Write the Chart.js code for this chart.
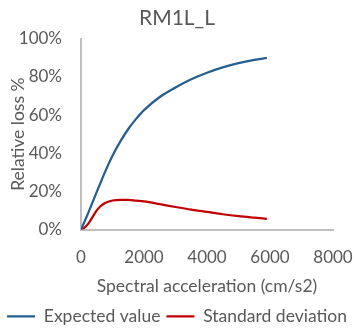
<!DOCTYPE html>
<html>
<head>
<meta charset="utf-8">
<script src="https://cdn.jsdelivr.net/npm/chart.js@4.4.1/dist/chart.umd.min.js"></script>
<style>
  html, body { margin: 0; padding: 0; background: #fff; }
  #wrap { width: 354px; height: 328px; }
</style>
</head>
<body>
<div id="wrap"><canvas id="myChart"></canvas></div>
<script>
const accel = [0, 100, 250, 375, 500, 625, 750, 1000, 1250, 1500, 1750, 2000, 2500, 3000, 3500, 4000, 4500, 5000, 5500, 5900];
const expectedValue = [0, 0.037, 0.095, 0.146, 0.197, 0.247, 0.297, 0.387, 0.462, 0.527, 0.58, 0.626, 0.695, 0.745, 0.788, 0.822, 0.85, 0.872, 0.889, 0.90];
const standardDeviation = [0, 0.008, 0.035, 0.068, 0.10, 0.123, 0.138, 0.152, 0.156, 0.155, 0.151, 0.147, 0.133, 0.118, 0.104, 0.092, 0.08, 0.07, 0.062, 0.056];
const xTicks = [0, 2000, 4000, 6000, 8000];
const yTicks = [0, 0.2, 0.4, 0.6, 0.8, 1.0];

const gray = "#595959";
const font = "Lato";

const toPoints = (ys) => accel.map((x, i) => ({ x: x, y: ys[i] }));

const ctx = document.getElementById("myChart");

new Chart(ctx, {
  type: "line",
  data: {
    datasets: [
      {
        label: "Expected value",
        data: toPoints(expectedValue),
        borderColor: "#255e91",
        backgroundColor: "#255e91",
        borderWidth: 2.25,
        pointRadius: 0,
        cubicInterpolationMode: "monotone",
      },
      {
        label: "Standard deviation",
        data: toPoints(standardDeviation),
        borderColor: "#c00000",
        backgroundColor: "#c00000",
        borderWidth: 2.25,
        pointRadius: 0,
        cubicInterpolationMode: "monotone",
      },
    ],
  },
  options: {
    responsive: true,
    maintainAspectRatio: false,
    animation: false,
    layout: { padding: { left: 0, right: 0, top: 0, bottom: -7 } },
    plugins: {
      title: {
        display: true,
        text: "RM1L_L",
        color: gray,
        font: { family: font, size: 21, weight: "normal" },
        padding: { top: 6, bottom: 7.6 },
      },
      legend: {
        position: "bottom",
        labels: {
          color: gray,
          font: { family: font, size: 17.5 },
          usePointStyle: true,
          pointStyle: "line",
          pointStyleWidth: 28,
          boxHeight: 8,
          padding: 6,
        },
      },
      tooltip: { enabled: false },
    },
    scales: {
      x: {
        type: "linear",
        min: 0,
        max: 8000,
        afterBuildTicks: (axis) => {
          axis.ticks = xTicks.map((v) => ({ value: v }));
        },
        afterFit: (axis) => {
          axis.height = 72;
          axis.paddingRight = 21;
        },
        grid: { display: false, drawTicks: false },
        border: { color: "#bfbfbf", width: 2 },
        ticks: {
          color: gray,
          font: { family: font, size: 17 },
          padding: 18,
          maxRotation: 0,
          callback: (v) => v,
        },
        title: {
          display: true,
          text: "Spectral acceleration (cm/s2)",
          color: gray,
          font: { family: font, size: 17.5 },
          padding: { top: 0, bottom: 5 },
        },
      },
      y: {
        min: 0,
        max: 1,
        afterBuildTicks: (axis) => {
          axis.ticks = yTicks.map((v) => ({ value: v }));
        },
        afterFit: (axis) => {
          axis.width = 81;
        },
        grid: { display: false, drawTicks: false },
        border: { color: "#bfbfbf", width: 2 },
        ticks: {
          color: gray,
          font: { family: font, size: 17 },
          padding: 19,
          callback: (v) => Math.round(v * 100) + "%",
        },
        title: {
          display: true,
          text: "Relative loss %",
          color: gray,
          font: { family: font, size: 17.5 },
          padding: { top: 8, bottom: 0 },
        },
      },
    },
  },
});
</script>
</body>
</html>
